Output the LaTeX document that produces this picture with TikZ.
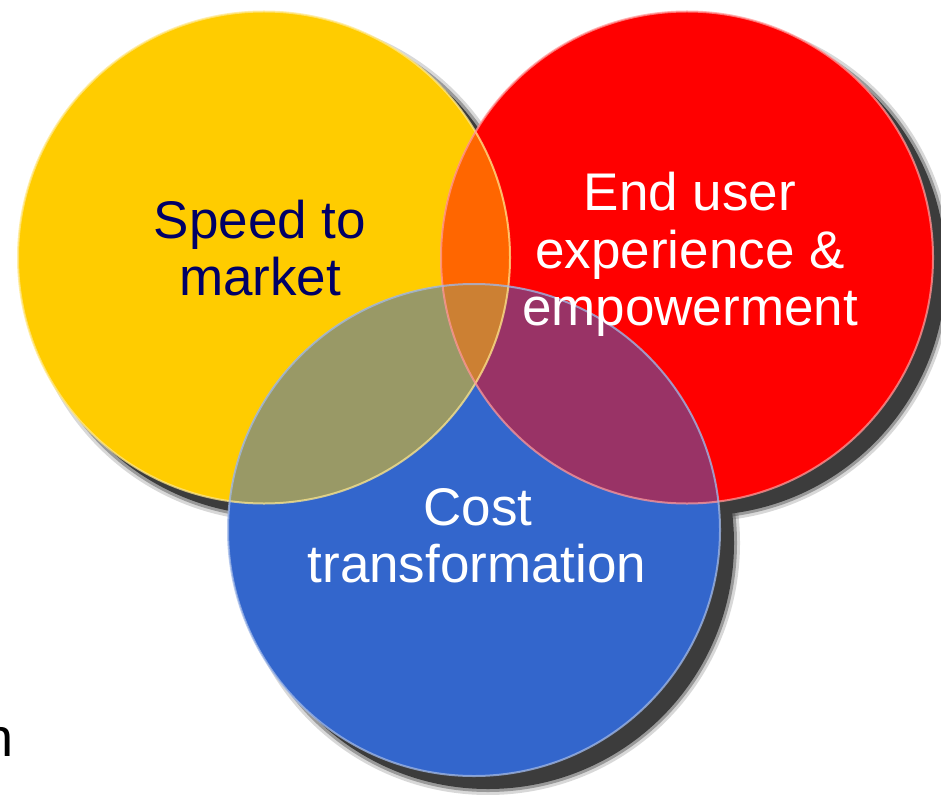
\documentclass[tikz,border=0pt]{standalone}
\usepackage{fontspec}
\setmainfont{Liberation Sans}
\definecolor{cyel}{HTML}{FFCC00}
\definecolor{cred}{HTML}{FF0000}
\definecolor{cblu}{HTML}{3366CC}
\definecolor{cyr}{HTML}{FF6600}
\definecolor{cyb}{HTML}{999966}
\definecolor{crb}{HTML}{993366}
\definecolor{cyrb}{HTML}{CC8033}
\definecolor{cnavy}{HTML}{000066}
\definecolor{cshadow}{HTML}{3C3C3C}
\tikzset{
  lbl/.style={inner sep=0pt, anchor=base, font=\fontsize{53}{57}\selectfont},
  rim/.style={line width=2pt, opacity=0.75},
}
\begin{document}
\begin{tikzpicture}[x=1pt,y=-1pt]
\useasboundingbox (0,0) rectangle (941,794);
\coordinate (Y) at (264,257.5);
\coordinate (R) at (687,257.5);
\coordinate (B) at (474,530);
\coordinate (Ys) at (277,269.5);
\coordinate (Rs) at (700,269.5);
\coordinate (Bs) at (488,543);
% soft drop shadows
\foreach \c in {Ys,Rs,Bs}{
  \fill[cshadow, opacity=0.2] (\c) circle (252pt);
  \fill[cshadow, opacity=0.4] (\c) circle (249pt);
  \fill[cshadow] (\c) circle (246pt);
}
% circles
\fill[cyel] (Y) circle (246pt);
\fill[cred] (R) circle (246pt);
\fill[cblu] (B) circle (246pt);
% overlaps
\begin{scope}
  \clip (Y) circle (246pt);
  \fill[cyr] (R) circle (246pt);
  \fill[cyb] (B) circle (246pt);
\end{scope}
\begin{scope}
  \clip (R) circle (246pt);
  \fill[crb] (B) circle (246pt);
\end{scope}
\begin{scope}
  \clip (Y) circle (246pt);
  \clip (R) circle (246pt);
  \fill[cyrb] (B) circle (246pt);
\end{scope}
% rims
\draw[rim, cyel!45!white] (Y) circle (246pt);
\draw[rim, cred!40!white] (R) circle (246pt);
\draw[rim, cblu!45!white] (B) circle (246pt);
% labels
\node[lbl, text=cnavy] (speedA) at (260,238) {Speed to};
\node[lbl, text=cnavy] (speedB) at (260,295) {market};
\node[lbl, text=white] (endA) at (690,211) {End user};
\node[lbl, text=white] (endB) at (690,268) {experience \&};
\node[lbl, text=white] (endC) at (690,325) {empowerment};
\node[lbl, text=white] (costA) at (478,525) {Cost};
\node[lbl, text=white] (costB) at (477,582) {transformation};
\node[inner sep=0pt, anchor=base west, font=\fontsize{54}{57}\selectfont] (frag) at (-17,756) {n};
\end{tikzpicture}
\end{document}
